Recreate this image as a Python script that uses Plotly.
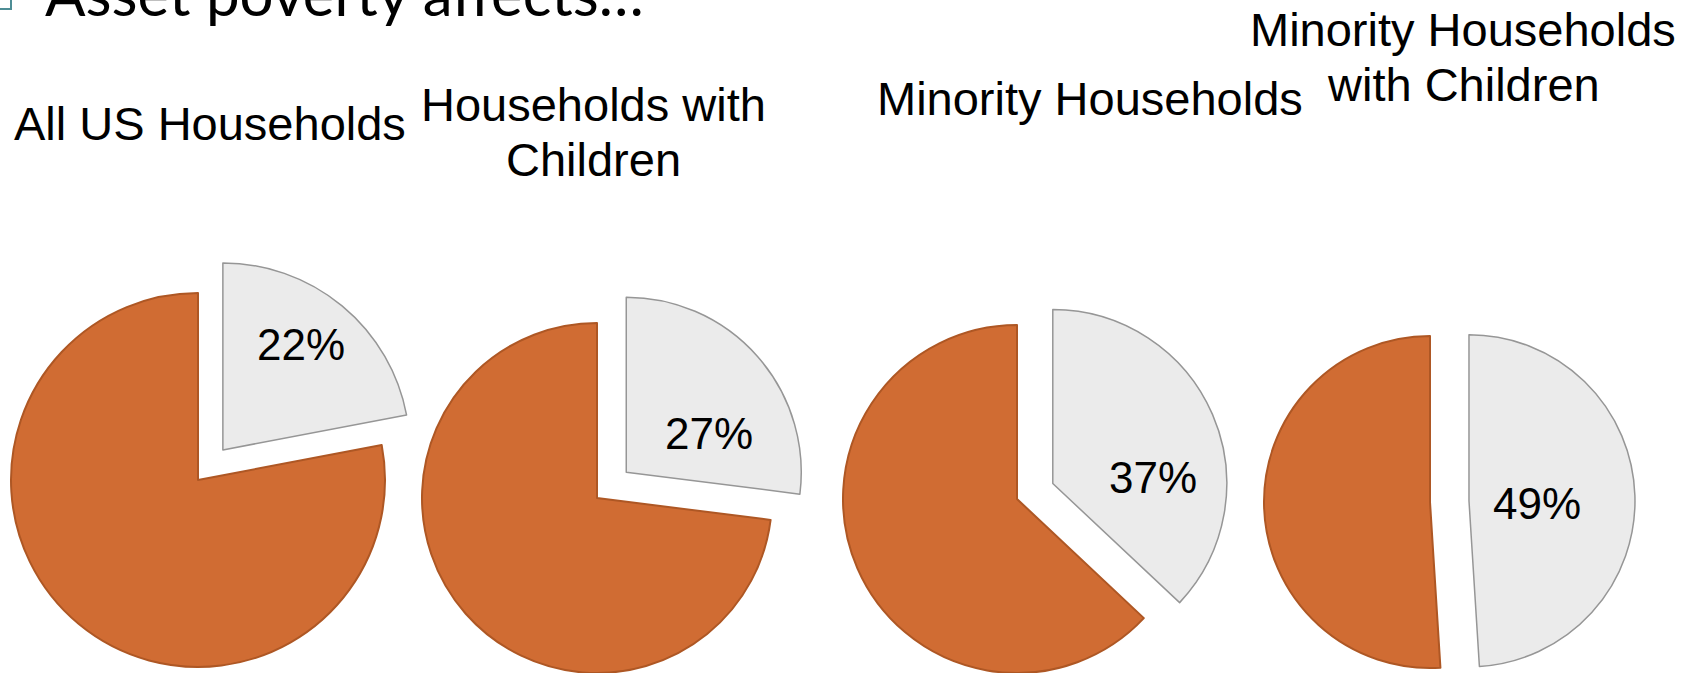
import math
import plotly.graph_objects as go

# ---------------- data ----------------
categories = [
    "All US Households",
    "Households with<br>Children",
    "Minority Households",
    "Minority Households<br>with Children",
]
asset_poor_pct = [22, 27, 37, 49]
not_asset_poor_pct = [78, 73, 63, 51]
slide_title = "Asset poverty affects\u2026"

# ---------------- layout geometry (pixels) ----------------
W, H = 1700, 673
pie_cx = [198, 597, 1017, 1430]
pie_cy = [480, 498, 499, 502]
pie_r = [187, 175, 174, 166]
explode_px = 39
# percent label offsets from each pie centre
pct_dx = [103, 112, 136, 107]
pct_dy = [-135, -65, -22, 1]
title_cx = [210, 593, 1090, 1463]
title_baseline = [138, 119, 113, 44]
TITLE_FS = 47
TITLE_LINE_PX = 55
PCT_FS = 44
FONT = "Liberation Sans, Arial, sans-serif"

ORANGE = "#D06C33"
ORANGE_EDGE = "#AE5724"
LIGHT = "#EBEBEB"
LIGHT_EDGE = "#969696"
CLEAR = "rgba(0,0,0,0)"


def clamp(v):
    return max(0.0, min(1.0, v))


def domain(cx, cy, r):
    return dict(
        x=[clamp((cx - r) / W), clamp((cx + r) / W)],
        y=[clamp((H - cy - r) / H), clamp((H - cy + r) / H)],
    )


fig = go.Figure()
annotations = []

for i, cat in enumerate(categories):
    vals = [asset_poor_pct[i], not_asset_poor_pct[i]]
    cx, cy, r = pie_cx[i], pie_cy[i], pie_r[i]
    # bisector of the exploded (first) slice, clockwise from 12 o'clock
    mid = math.pi * (vals[0] / sum(vals))
    ox = explode_px * math.sin(mid)
    oy = -explode_px * math.cos(mid)

    # remaining (orange) part
    fig.add_trace(go.Pie(
        values=vals,
        labels=["Asset poor", "Not asset poor"],
        sort=False, direction="clockwise", rotation=0,
        marker=dict(colors=[CLEAR, ORANGE],
                    line=dict(color=[CLEAR, ORANGE_EDGE], width=2)),
        textinfo="none", hoverinfo="skip",
        domain=domain(cx, cy, r),
        showlegend=False,
    ))
    # exploded (light) slice
    fig.add_trace(go.Pie(
        values=vals,
        labels=["Asset poor", "Not asset poor"],
        sort=False, direction="clockwise", rotation=0,
        marker=dict(colors=[LIGHT, CLEAR],
                    line=dict(color=[LIGHT_EDGE, CLEAR], width=1.5)),
        textinfo="none", hoverinfo="skip",
        domain=domain(cx + ox, cy + oy, r),
        showlegend=False,
    ))
    # percent label of the exploded slice
    annotations.append(dict(
        text=f"{asset_poor_pct[i]}%", xref="paper", yref="paper",
        x=(cx + pct_dx[i]) / W, y=1 - (cy + pct_dy[i]) / H,
        xanchor="center", yanchor="middle", showarrow=False,
        font=dict(family=FONT, size=PCT_FS, color="black"),
    ))
    # category title (one annotation per line)
    for k, line in enumerate(cat.split("<br>")):
        top_px = title_baseline[i] + k * TITLE_LINE_PX - 0.905 * TITLE_FS
        annotations.append(dict(
            text=line, xref="paper", yref="paper",
            x=title_cx[i] / W, y=1 - top_px / H,
            xanchor="center", yanchor="top", showarrow=False,
            font=dict(family=FONT, size=TITLE_FS, color="black"),
        ))

# clipped slide title at the very top
TT_FS = 60
annotations.append(dict(
    text=slide_title, xref="paper", yref="paper",
    x=43 / W, y=1 - (14 - 0.987 * TT_FS) / H,
    xanchor="left", yanchor="top", showarrow=False,
    font=dict(family="Lato, sans-serif", size=TT_FS, color="black"),
))

fig.update_layout(
    width=W, height=H,
    margin=dict(l=0, r=0, t=0, b=0),
    paper_bgcolor="white", plot_bgcolor="white",
    showlegend=False,
    annotations=annotations,
    shapes=[dict(type="rect", xref="paper", yref="paper",
                 x0=-20 / W, x1=11 / W, y0=1 - 9 / H, y1=1 + 20 / H,
                 line=dict(color="#4E8D95", width=2))],
)

fig.write_html(
    "out.html",
    config={"displayModeBar": False},
    post_script="document.body.style.margin='0px';",
)
